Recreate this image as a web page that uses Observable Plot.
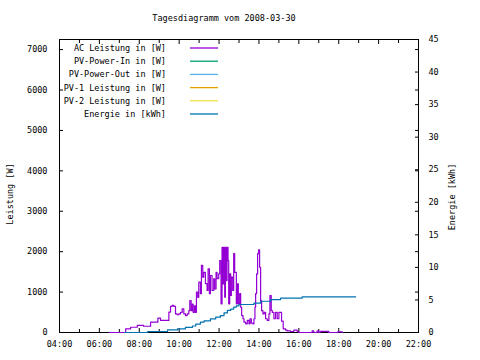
<!DOCTYPE html>
<html>
<head>
<meta charset="utf-8">
<script src="https://cdn.jsdelivr.net/npm/d3@7"></script>
<script src="https://cdn.jsdelivr.net/npm/@observablehq/plot@0.6"></script>
<style>
  html, body { margin: 0; padding: 0; background: #fff; }
</style>
</head>
<body>
<div id="chart"></div>
<script>
// ---- data ----
const titleText = "Tagesdiagramm vom 2008-03-30";

const acTime = ["06:30","07:04","07:19","07:34","07:54","08:13","08:34","08:49","08:56","09:04","09:24","09:29","09:34","09:39","09:44","09:49","09:54","09:59","10:04","10:09","10:14","10:19","10:24","10:29","10:32","10:36","10:39","10:42","10:46","10:49","10:52","10:56","10:59","11:04","11:07","11:11","11:14","11:19","11:24","11:27","11:31","11:34","11:39","11:44","11:47","11:51","11:54","11:59","12:02","12:06","12:09","12:12","12:14","12:17","12:19","12:22","12:24","12:27","12:29","12:32","12:35","12:37","12:41","12:44","12:47","12:52","12:55","12:58","13:02","13:05","13:08","13:12","13:15","13:20","13:25","13:30","13:33","13:37","13:42","13:45","13:48","13:50","13:53","13:56","13:59","14:02","14:05","14:08","14:12","14:16","14:20","14:25","14:30","14:33","14:37","14:40","14:45","14:50","14:55","15:00","15:05","15:08","15:13","15:20","15:25","15:35","15:45","15:55","16:00","16:35","16:40","16:45","16:55","17:00","17:05","17:25","17:30","17:57","18:11"];
const acPower = [0,0,90,130,175,155,255,255,355,300,300,505,645,670,645,460,440,460,500,585,460,420,460,540,790,540,700,500,660,500,1000,870,1245,960,1660,1370,1490,1210,1040,1575,960,1410,1040,1330,1080,1490,1330,1450,1780,710,2110,1205,2110,875,2110,1285,2110,1780,710,1450,915,1370,1040,1950,1490,710,1205,710,960,625,420,340,255,215,300,215,340,230,215,340,625,960,1450,1950,2045,1615,790,540,460,500,340,300,460,915,545,500,340,500,340,500,500,280,90,60,40,25,60,25,0,0,40,0,40,0,30,30,0,15,0];

const energyTime = ["07:16","08:25","09:25","09:55","10:19","10:40","10:50","11:04","11:15","11:34","11:50","12:04","12:15","12:25","12:35","12:44","12:52","13:00","13:25","13:45","14:05","14:35","15:05","16:10","18:51"];
const energyKWh = [0,0.15,0.4,0.57,0.8,1.0,1.3,1.6,1.8,2.1,2.35,2.6,3.0,3.4,3.6,3.9,4.1,4.3,4.3,4.5,4.8,5.05,5.27,5.48,5.48];

const legendLabels = ["AC Leistung in [W]","PV-Power-In in [W]","PV-Power-Out in [W]","PV-1 Leistung in [W]","PV-2 Leistung in [W]","Energie in [kWh]"];
const legendColors = ["#9400d3","#009e73","#56b4e9","#e69f00","#f0e442","#0072b2"];

const xMajorTicks = [4,6,8,10,12,14,16,18,20,22];
const xMinorTicks = [5,7,9,11,13,15,17,19,21];
const yTicks = [0,1000,2000,3000,4000,5000,6000,7000];
const y2Ticks = [0,5,10,15,20,25,30,35,40,45];
const yMax = 7250, y2Max = 45;
const leftLabel = "Leistung [W]";
const rightLabel = "Energie [kWh]";

// ---- helpers ----
const toH = s => { const [h, m] = s.split(":").map(Number); return h + m / 60; };
const k = yMax / y2Max; // kWh -> W-axis units
const fmtHour = h => String(h).padStart(2, "0") + ":00";
const FONT = "DejaVu Sans Mono";

const ac = acTime.map((t, i) => ({x: toH(t), y: acPower[i]}));
const en = energyTime.map((t, i) => ({x: toH(t), y: energyKWh[i] * k}));

function legend(index, scales, values, dims) {
  const g = d3.create("svg:g")
    .attr("font-family", FONT).attr("font-size", "8.5px").attr("fill", "black");
  legendLabels.forEach((lab, i) => {
    const y = dims.marginTop + 9 + i * 13.2;
    g.append("text").attr("x", dims.marginLeft + 107).attr("y", y)
      .attr("text-anchor", "end").attr("dy", "0.35em").text(lab);
    g.append("line").attr("x1", dims.marginLeft + 131).attr("x2", dims.marginLeft + 159)
      .attr("y1", y).attr("y2", y).attr("stroke", legendColors[i]).attr("stroke-width", 1.3);
  });
  return g.node();
}

const chart = Plot.plot({
  width: 480,
  height: 360,
  marginTop: 39,
  marginLeft: 59,
  marginRight: 62,
  marginBottom: 28,
  style: {fontFamily: FONT, fontSize: "8.5px", background: "white", color: "black"},
  x: {domain: [4, 22]},
  y: {domain: [0, yMax]},
  marks: [
    Plot.frame({stroke: "black"}),
    Plot.axisX(xMajorTicks, {anchor: "bottom", tickSize: -4, tickPadding: 12, tickFormat: fmtHour, label: null}),
    Plot.axisX(xMinorTicks, {anchor: "bottom", tickSize: -3, tickFormat: () => "", label: null}),
    Plot.axisX(xMajorTicks, {anchor: "top", tickSize: -4, tickFormat: () => "", label: null}),
    Plot.axisX(xMinorTicks, {anchor: "top", tickSize: -3, tickFormat: () => "", label: null}),
    Plot.axisY(yTicks, {anchor: "left", tickSize: -4, tickPadding: 16, tickFormat: d => String(d), label: null}),
    Plot.axisY(yTicks, {anchor: "right", tickSize: -4, tickFormat: () => "", label: null}),
    Plot.axisY(y2Ticks.map(v => v * k), {anchor: "right", tickSize: -4, tickPadding: 14, tickFormat: w => String(Math.round(w / k)), label: null}),
    Plot.text([leftLabel], {frameAnchor: "left", textAnchor: "middle", text: d => d, rotate: -90, dx: -49, dy: 8}),
    Plot.text([rightLabel], {frameAnchor: "right", textAnchor: "middle", text: d => d, rotate: -90, dx: 34, dy: 11}),
    Plot.text([titleText], {frameAnchor: "top", lineAnchor: "middle", text: d => d, dx: -15, dy: -21}),
    Plot.line(ac, {x: "x", y: "y", stroke: legendColors[0], strokeWidth: 1.2, curve: "step-after"}),
    Plot.line(en, {x: "x", y: "y", stroke: legendColors[5], strokeWidth: 1.2, curve: "step-after"}),
    legend
  ]
});
document.getElementById("chart").appendChild(chart);
</script>
</body>
</html>
